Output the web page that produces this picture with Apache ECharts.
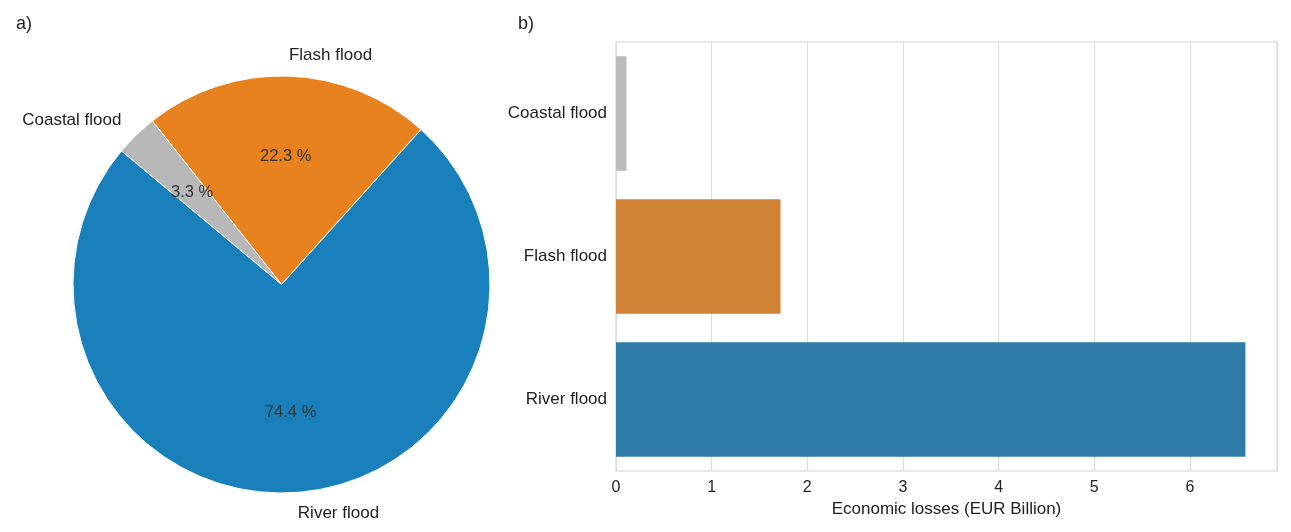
<!DOCTYPE html>
<html>
<head>
<meta charset="utf-8">
<script src="https://cdn.jsdelivr.net/npm/echarts@6/dist/echarts.min.js"></script>
<style>
  html, body { margin: 0; padding: 0; background: #fff; }
  #main { width: 1291px; height: 532px; }
</style>
</head>
<body>
<div id="main"></div>
<script>
// pie (a): share of flood type, counter-clockwise from Flash flood
var pieNames = ['Flash flood', 'Coastal flood', 'River flood'];
var pieShares = [22.3, 3.3, 74.4];
var pieColors = ['#e8821e', '#b8b8b8', '#1a80bb'];

// bars (b): economic losses
var barCats = ['Coastal flood', 'Flash flood', 'River flood'];
var barLosses = [0.11, 1.72, 6.58];
var barColors = ['#bababa', '#d08336', '#2e7ba8'];
var xTicks = [0, 1, 2, 3, 4, 5, 6];

var chart = echarts.init(document.getElementById('main'));
var font = 'Liberation Sans, Arial, sans-serif';
var R = 208.5;
var C = [281.5, 284.5];

var outerData = pieNames.map(function(n, i) {
  return { name: n, value: pieShares[i], itemStyle: { color: pieColors[i] } };
});
var innerData = pieNames.map(function(n, i) {
  return { name: n, value: pieShares[i] };
});

var option = {
  backgroundColor: '#fff',
  textStyle: { fontFamily: font },
  animation: false,
  title: [
    { text: 'a)', left: 11, top: 10, textStyle: { fontSize: 18, fontWeight: 'normal', color: '#222', fontFamily: font } },
    { text: 'b)', left: 513, top: 10, textStyle: { fontSize: 18, fontWeight: 'normal', color: '#222', fontFamily: font } }
  ],
  grid: {
    left: 616, right: 14, top: 42, bottom: 61,
    show: true, borderColor: '#d6d6d6', borderWidth: 1.2, backgroundColor: 'transparent'
  },
  xAxis: {
    type: 'value',
    min: 0, max: 6.91, interval: 1,
    name: 'Economic losses (EUR Billion)',
    nameLocation: 'middle', nameGap: 28,
    nameTextStyle: { fontSize: 17, color: '#222', fontFamily: font },
    axisLine: { show: false },
    axisTick: { show: false },
    axisLabel: {
      fontSize: 16, color: '#222', margin: 9, showMaxLabel: false,
      formatter: function(v) { return xTicks.indexOf(v) >= 0 ? String(v) : ''; }
    },
    splitLine: { show: true, lineStyle: { color: '#dcdcdc', width: 1.2 } }
  },
  yAxis: {
    type: 'category',
    data: barCats,
    inverse: true,
    axisLine: { show: false },
    axisTick: { show: false },
    axisLabel: { fontSize: 17, color: '#222', margin: 9 },
    splitLine: { show: false }
  },
  series: [
    {
      type: 'pie',
      center: C,
      radius: [0, R],
      startAngle: 48,
      clockwise: false,
      avoidLabelOverlap: false,
      silent: true,
      itemStyle: { borderColor: '#fff', borderWidth: 1 },
      label: {
        show: true, position: 'outside', fontSize: 17, color: '#222',
        formatter: '{b}', distanceToLabelLine: 0
      },
      labelLine: { show: false, length: 21, length2: 0 },
      data: outerData
    },
    {
      type: 'pie',
      center: C,
      radius: [0.2 * R, R],
      startAngle: 48,
      clockwise: false,
      avoidLabelOverlap: false,
      silent: true,
      itemStyle: { color: 'rgba(0,0,0,0)', borderWidth: 0 },
      label: {
        show: true, position: 'inside', fontSize: 16.5, color: '#333',
        formatter: function(p) { return p.value.toFixed(1) + ' %'; }
      },
      labelLine: { show: false },
      data: innerData
    },
    {
      type: 'bar',
      barCategoryGap: '20%',
      data: barLosses.map(function(v, i) {
        return { value: v, itemStyle: { color: barColors[i] } };
      })
    }
  ]
};

chart.setOption(option);
</script>
</body>
</html>
